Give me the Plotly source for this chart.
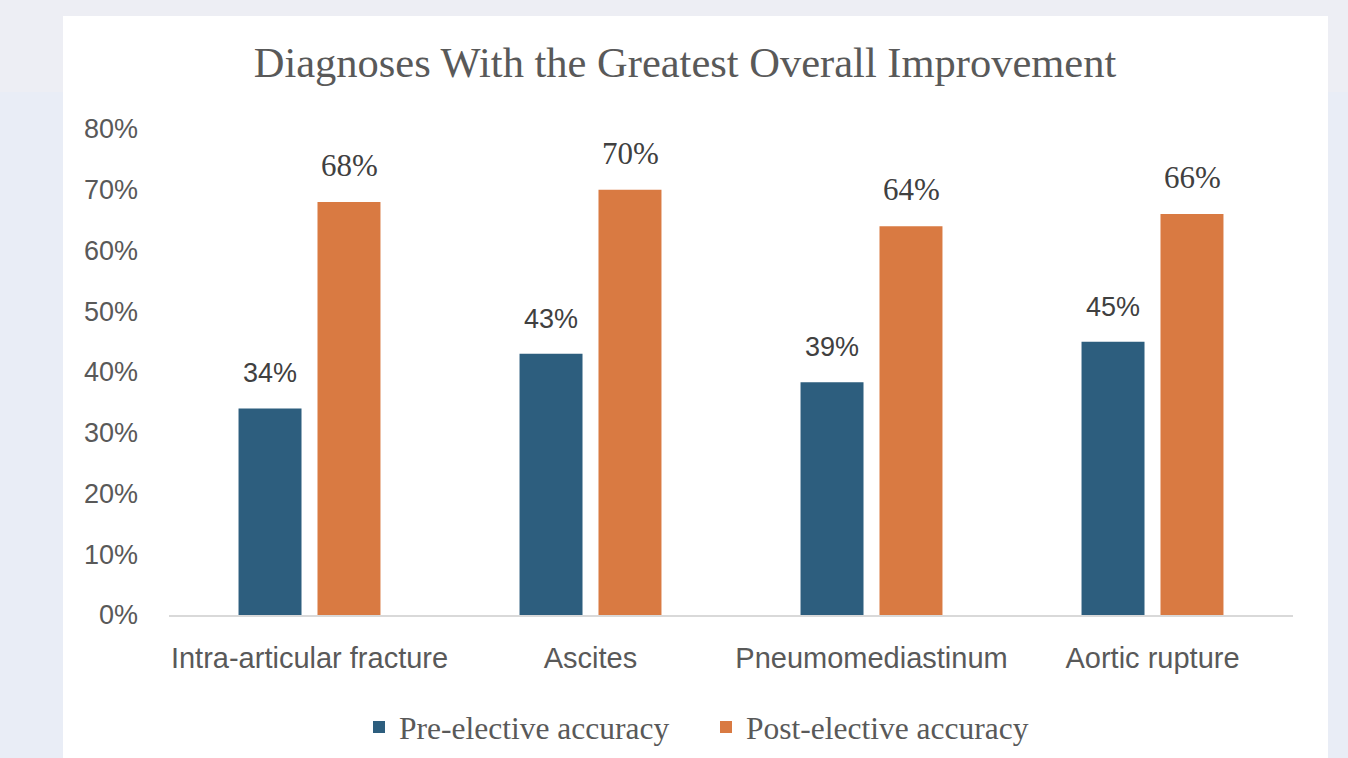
import plotly.graph_objects as go

categories = ["Intra-articular fracture", "Ascites", "Pneumomediastinum", "Aortic rupture"]
pre_values = [34, 43, 38.3, 45]
post_values = [68, 70, 64, 66]
pre_labels = ["34%", "43%", "39%", "45%"]
post_labels = ["68%", "70%", "64%", "66%"]
y_ticks = [0, 10, 20, 30, 40, 50, 60, 70, 80]
y_tick_labels = [f"{v}%" for v in y_ticks]

BLUE = "#2d5e7e"
ORANGE = "#d97a42"
GRAY = "#595959"
SANS = "Liberation Sans, Arial, sans-serif"
SERIF = "Liberation Serif, Times New Roman, serif"

W, H = 1348, 758
L, R, T, B = 169, 55, 129, 143
PW, PH = W - L - R, H - T - B

def px_x(px):
    return (px - L) / PW

def px_y(py):
    return (H - B - py) / PH

fig = go.Figure()
fig.add_trace(go.Bar(name="Pre-elective accuracy", x=categories, y=pre_values,
                     marker=dict(color=BLUE, line=dict(width=0)), hoverinfo="skip"))
fig.add_trace(go.Bar(name="Post-elective accuracy", x=categories, y=post_values,
                     marker=dict(color=ORANGE, line=dict(width=0)), hoverinfo="skip"))

annotations = []
for c, v, t in zip(categories, pre_values, pre_labels):
    annotations.append(dict(x=c, y=v, xref="x", yref="y", text=t, showarrow=False,
                            xshift=-39.5, yshift=18, yanchor="bottom",
                            font=dict(family=SANS, size=27, color="#404040")))
for c, v, t in zip(categories, post_values, post_labels):
    annotations.append(dict(x=c, y=v, xref="x", yref="y", text=t, showarrow=False,
                            xshift=39.5, yshift=17, yanchor="bottom",
                            font=dict(family=SERIF, size=31, color="#404040")))

shapes = [
    dict(type="rect", xref="paper", yref="paper", x0=px_x(-5), x1=px_x(63), y0=px_y(770), y1=px_y(92),
         fillcolor="#e9edf6", line=dict(width=0), layer="below"),
    dict(type="rect", xref="paper", yref="paper", x0=px_x(1328), x1=px_x(1360), y0=px_y(770), y1=px_y(92),
         fillcolor="#e9edf6", line=dict(width=0), layer="below"),
    dict(type="rect", xref="paper", yref="paper", x0=px_x(63), x1=px_x(1328), y0=px_y(770), y1=px_y(16),
         fillcolor="white", line=dict(width=0), layer="below"),
]

fig.update_layout(
    width=W, height=H,
    margin=dict(l=L, r=R, t=T, b=B, pad=0, autoexpand=False),
    paper_bgcolor="#edeef4",
    plot_bgcolor="rgba(0,0,0,0)",
    barmode="group",
    bargap=0.438,
    bargroupgap=0.2025,
    title=dict(text="Diagnoses With the Greatest Overall Improvement",
               x=685 / W, xref="container", xanchor="center",
               y=1 - 62 / H, yref="container", yanchor="middle",
               font=dict(family=SERIF, size=42.5, color=GRAY)),
    xaxis=dict(showline=True, linecolor="#d9d9d9", linewidth=2, showgrid=False,
               tickfont=dict(family=SANS, size=29, color=GRAY),
               ticks="", ticklabelstandoff=16, fixedrange=True, automargin=False),
    yaxis=dict(range=[0, 80], tickvals=y_ticks, ticktext=y_tick_labels, showgrid=False,
               zeroline=False, showline=False,
               tickfont=dict(family=SANS, size=27, color=GRAY),
               ticks="", ticklabelstandoff=30, fixedrange=True, automargin=False),
    legend=dict(orientation="h", x=px_x(706), xanchor="center", y=px_y(727), yanchor="middle",
                font=dict(family=SERIF, size=31.5, color=GRAY), bgcolor="rgba(0,0,0,0)",
                entrywidth=302, entrywidthmode="pixels"),
    annotations=annotations,
    shapes=shapes,
    showlegend=True,
)

fig.write_html("out.html")
